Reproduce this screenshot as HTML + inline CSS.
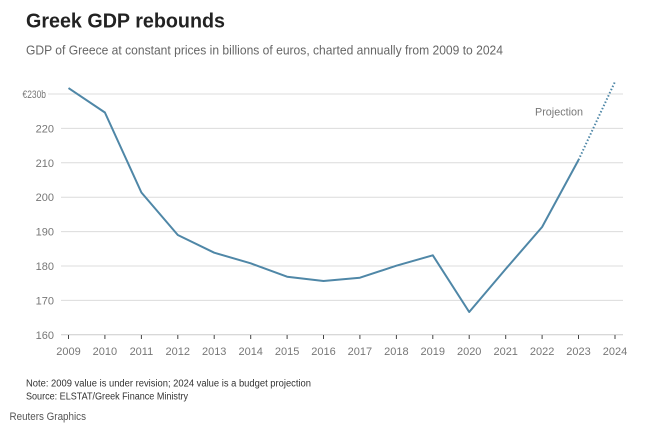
<!DOCTYPE html>
<html><head><meta charset="utf-8"><style>
html,body{margin:0;padding:0;background:#fff;}
svg{display:block;}
text{font-family:"Liberation Sans",sans-serif;}
</style></head><body>
<svg width="650" height="429" viewBox="0 0 650 429" xmlns="http://www.w3.org/2000/svg">
<rect width="650" height="429" fill="#fff"/>
<text x="26" y="27.5" font-size="20" font-weight="bold" fill="#222" textLength="199" lengthAdjust="spacingAndGlyphs">Greek GDP rebounds</text>
<text x="26" y="54.3" font-size="13" fill="#666" textLength="477" lengthAdjust="spacingAndGlyphs">GDP of Greece at constant prices in billions of euros, charted annually from 2009 to 2024</text>
<g stroke="#dcdcdc" stroke-width="1">
<line x1="48" y1="94" x2="623" y2="94"/>
<line x1="61" y1="128.4" x2="623" y2="128.4"/>
<line x1="61" y1="162.8" x2="623" y2="162.8"/>
<line x1="61" y1="197.2" x2="623" y2="197.2"/>
<line x1="61" y1="231.6" x2="623" y2="231.6"/>
<line x1="61" y1="266" x2="623" y2="266"/>
<line x1="61" y1="300.4" x2="623" y2="300.4"/>
<line x1="61" y1="334.8" x2="623" y2="334.8" stroke="#ccc"/>
</g>
<g font-size="11" fill="#777">
<text x="22.5" y="98" textLength="23.5" lengthAdjust="spacingAndGlyphs">€230b</text>
<g text-anchor="end">
<text x="54" y="132.4">220</text>
<text x="54" y="166.8">210</text>
<text x="54" y="201.2">200</text>
<text x="54" y="235.6">190</text>
<text x="54" y="270">180</text>
<text x="54" y="304.4">170</text>
<text x="54" y="338.8">160</text>
</g>
</g>
<g stroke="#444" stroke-width="1">
<line x1="68.5" y1="335" x2="68.5" y2="339"/>
<line x1="104.9" y1="335" x2="104.9" y2="339"/>
<line x1="141.4" y1="335" x2="141.4" y2="339"/>
<line x1="177.8" y1="335" x2="177.8" y2="339"/>
<line x1="214.2" y1="335" x2="214.2" y2="339"/>
<line x1="250.7" y1="335" x2="250.7" y2="339"/>
<line x1="287.1" y1="335" x2="287.1" y2="339"/>
<line x1="323.5" y1="335" x2="323.5" y2="339"/>
<line x1="359.9" y1="335" x2="359.9" y2="339"/>
<line x1="396.4" y1="335" x2="396.4" y2="339"/>
<line x1="432.8" y1="335" x2="432.8" y2="339"/>
<line x1="469.2" y1="335" x2="469.2" y2="339"/>
<line x1="505.7" y1="335" x2="505.7" y2="339"/>
<line x1="542.1" y1="335" x2="542.1" y2="339"/>
<line x1="578.5" y1="335" x2="578.5" y2="339"/>
<line x1="615" y1="335" x2="615" y2="339"/>
</g>
<g font-size="11" fill="#777" text-anchor="middle">
<text x="68.5" y="355">2009</text>
<text x="104.9" y="355">2010</text>
<text x="141.4" y="355">2011</text>
<text x="177.8" y="355">2012</text>
<text x="214.2" y="355">2013</text>
<text x="250.7" y="355">2014</text>
<text x="287.1" y="355">2015</text>
<text x="323.5" y="355">2016</text>
<text x="359.9" y="355">2017</text>
<text x="396.4" y="355">2018</text>
<text x="432.8" y="355">2019</text>
<text x="469.2" y="355">2020</text>
<text x="505.7" y="355">2021</text>
<text x="542.1" y="355">2022</text>
<text x="578.5" y="355">2023</text>
<text x="615" y="355">2024</text>
</g>
<polyline fill="none" stroke="#4f87a7" stroke-width="2" stroke-linejoin="round" points="68.5,88.1 104.9,112.5 141.4,192.5 177.8,235 214.2,252.7 250.7,263.3 287.1,276.7 323.5,281 359.9,277.7 396.4,265.7 432.8,255.3 469.2,312 505.7,269 542.1,227 578.5,160"/>
<line x1="578.5" y1="160" x2="615" y2="81.7" stroke="#4f87a7" stroke-width="2" stroke-dasharray="1.5,2"/>
<text x="535" y="115.5" font-size="11" fill="#777" textLength="48" lengthAdjust="spacingAndGlyphs">Projection</text>
<text x="26" y="386.5" font-size="10" fill="#333" textLength="285" lengthAdjust="spacingAndGlyphs">Note: 2009 value is under revision; 2024 value is a budget projection</text>
<text x="26" y="399.3" font-size="10" fill="#333" textLength="162" lengthAdjust="spacingAndGlyphs">Source: ELSTAT/Greek Finance Ministry</text>
<text x="9.5" y="420" font-size="11" fill="#555" textLength="76.5" lengthAdjust="spacingAndGlyphs">Reuters Graphics</text>
</svg>
</body></html>
